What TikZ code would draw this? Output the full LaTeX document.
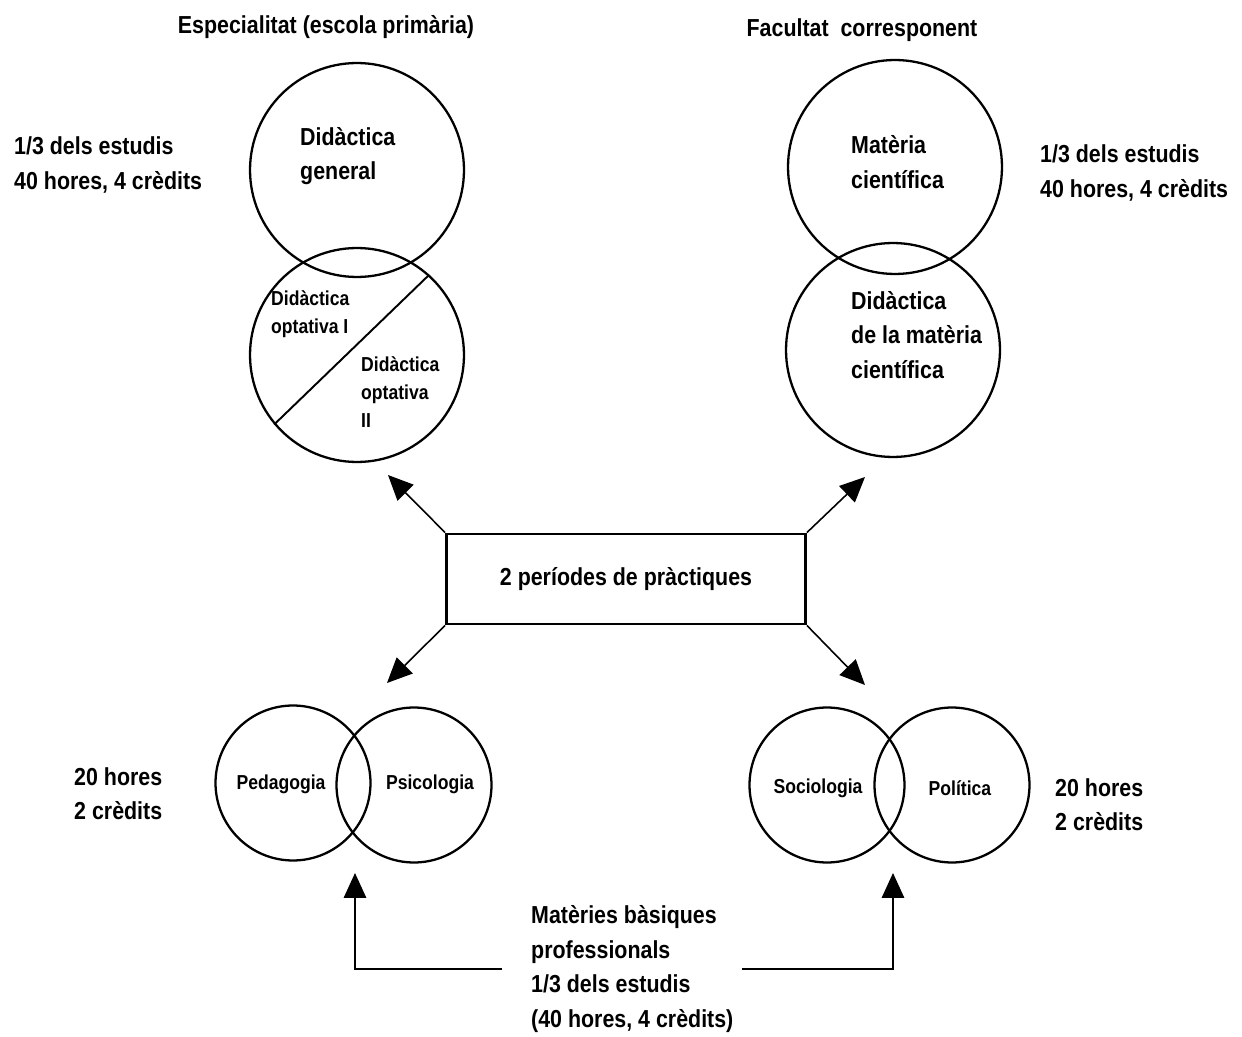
\documentclass[tikz,border=0pt]{standalone}
\usepackage{fontspec}
\setmainfont{Liberation Sans}[FakeStretch=0.87]
\usetikzlibrary{arrows.meta, positioning, calc}

\begin{document}
\begin{tikzpicture}[x=0.02cm, y=-0.02cm, every node/.style={font=\bfseries\fontsize{14}{19.5}\selectfont},
  cerc/.style={draw, circle, line width=1.3pt, inner sep=0pt},
  gran/.style={cerc, minimum size=4.28cm},
  mitja/.style={cerc, minimum size=3.1cm},
  petit/.style={font=\bfseries\fontsize{11.5}{16}\selectfont},
  fl/.style={line width=0.9pt, -{Triangle[length=5mm, width=4.5mm]}}]
  \useasboundingbox (0,0) rectangle (1242,1037);

  % titols
  \node (esp) at (326,27) {Especialitat (escola primària)};
  \node (fac) at (862,30) {Facultat\ \ corresponent};

  % cercles de dalt
  \node[gran] (dg) at (357,170) {};
  \node[gran] (op) at (357,355) {};
  \draw[line width=1.1pt] (op.48) -- (op.220);
  \node[gran] (mc) at (895,167) {};
  \node[gran] (dm) at (893,350) {};

  \node[anchor=west, align=left] (tdg) at (294,156) {Didàctica\\general};
  \node[anchor=west, align=left] (tmc) at (845,162) {Matèria\\científica};
  \node[anchor=west, align=left, petit] (op1) at (265,314) {Didàctica\\optativa I};
  \node[anchor=west, align=left, petit] (op2) at (355,392) {Didàctica\\optativa\\II};
  \node[anchor=west, align=left] (tdm) at (845,335) {Didàctica\\de la matèria\\científica};

  \node[anchor=west, align=left] (e1) at (8,165) {1/3 dels estudis\\40 hores, 4 crèdits};
  \node[anchor=west, align=left] (e2) at (1034,173) {1/3 dels estudis\\40 hores, 4 crèdits};

  % practiques
  \node[draw, line width=1.6pt, minimum width=7.18cm, minimum height=1.8cm] (prac) at (626,579) {2 períodes de pràctiques};
  \coordinate (a1) at (388,475);
  \coordinate (a2) at (865,477);
  \coordinate (a3) at (387,683);
  \coordinate (a4) at (865,685);
  \draw[fl] (prac.north west) -- (a1);
  \draw[fl] (prac.north east) -- (a2);
  \draw[fl] (prac.south west) -- (a3);
  \draw[fl] (prac.south east) -- (a4);

  % cercles de baix
  \node[mitja] (ped) at (293,783) {};
  \node[mitja] (psi) at (414,785) {};
  \node[mitja] (soc) at (827,785) {};
  \node[mitja] (pol) at (952,785) {};
  \node[petit] at (281,784) {Pedagogia};
  \node[petit] at (430,784) {Psicologia};
  \node[petit] at (818,788) {Sociologia};
  \node[petit] at (960,788) {Política};

  \node[anchor=west, align=left] (h1) at (68,794) {20 hores\\2 crèdits};
  \node[anchor=west, align=left] (h2) at (1049,805) {20 hores\\2 crèdits};

  % materies basiques
  \node[anchor=west, align=left, font=\bfseries\fontsize{14}{19.8}\selectfont] (mat) at (525,969) {Matèries bàsiques\\professionals\\1/3 dels estudis\\(40 hores, 4 crèdits)};
  \coordinate (b1) at (355,873);
  \coordinate (b2) at (893,873);
  \draw[fl] ([xshift=-0.46cm]mat.west) -| (b1);
  \draw[fl] ([xshift=0.05cm]mat.east) -| (b2);
\end{tikzpicture}
\end{document}
